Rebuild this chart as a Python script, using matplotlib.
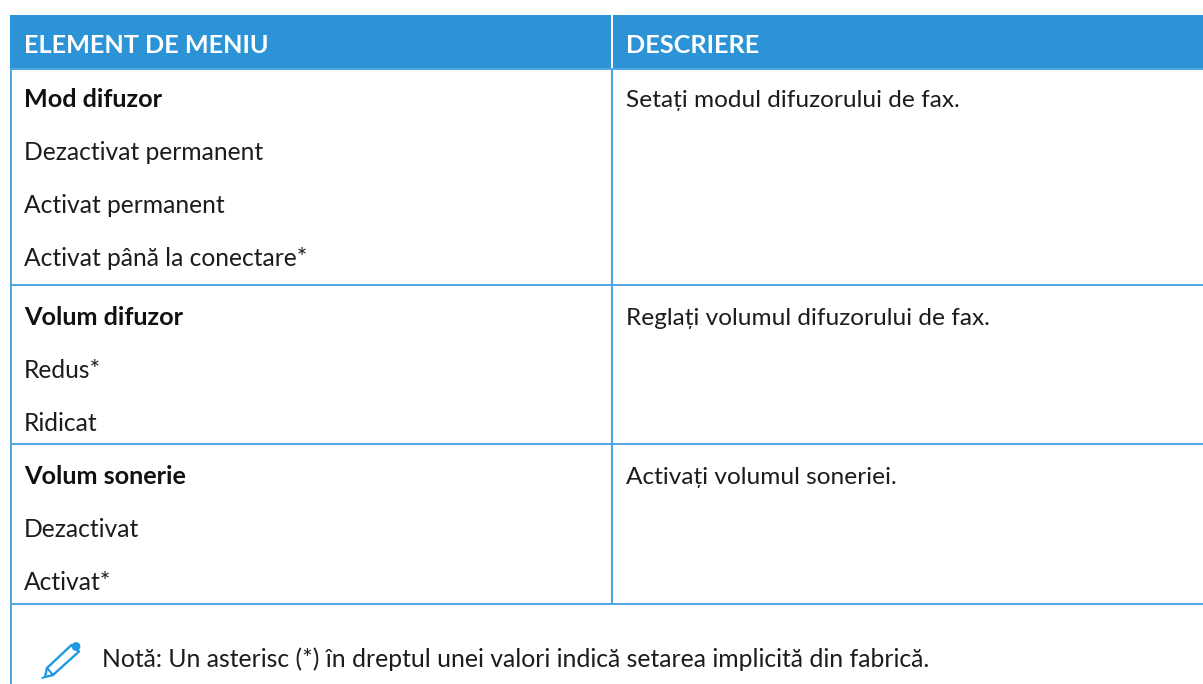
import matplotlib
matplotlib.use("Agg")
import matplotlib.pyplot as plt
from matplotlib.patches import Rectangle, Polygon, Circle

headers = ["ELEMENT DE MENIU", "DESCRIERE"]
row_titles = ["Mod difuzor", "Volum difuzor", "Volum sonerie"]
row_options = [
    ["Dezactivat permanent", "Activat permanent", "Activat până la conectare*"],
    ["Redus*", "Ridicat"],
    ["Dezactivat", "Activat*"],
]
row_desc = [
    "Setați modul difuzorului de fax.",
    "Reglați volumul difuzorului de fax.",
    "Activați volumul soneriei.",
]
note = "Notă: Un asterisc (*) în dreptul unei valori indică setarea implicită din fabrică."

BLUE = "#2b93d6"
LINE = "#4ea6e2"
ICON = "#1f9ae0"
TXT = "#1c1c1c"
FONT = "Lato"
FS = 17.6
FS_OPT = 17.75
FS_NOTE = 17.86
FS_B = 18.2

title_baselines = [107, 325, 484]
rule_positions = [285.3, 444.3, 603.5]
step = 53

fig = plt.figure(figsize=(12.03, 6.84), dpi=100)
ax = fig.add_axes([0, 0, 1, 1])
ax.set_xlim(0, 1203)
ax.set_ylim(684, 0)
ax.axis("off")

ax.add_patch(Rectangle((10, 15), 1193, 53, fc=BLUE, ec="none"))
ax.plot([611.5] * 2, [15, 68], color="white", lw=1.4, solid_capstyle="butt")
ax.plot([10, 1203], [68.5, 68.5], color=LINE, lw=1.4, solid_capstyle="butt")
ax.plot([10.5, 10.5], [68, 684], color=LINE, lw=1.4, solid_capstyle="butt")
ax.plot([611.7, 611.7], [68, 603.5], color=LINE, lw=1.5, solid_capstyle="butt")

ax.text(24, 53.3, headers[0], color="white", fontsize=FS_B, fontweight="bold", family=FONT, va="baseline")
ax.text(625.5, 53.3, headers[1], color="white", fontsize=FS_B, fontweight="bold", family=FONT, va="baseline")

for title, opts, desc, y, rule in zip(row_titles, row_options, row_desc, title_baselines, rule_positions):
    ax.text(24, y, title, color="#111111", fontsize=FS_B, fontweight="bold", family=FONT, va="baseline")
    ax.text(625.5, y, desc, color=TXT, fontsize=FS, family=FONT, va="baseline")
    for i, o in enumerate(opts, start=1):
        ax.text(24, y + i * step, o, color=TXT, fontsize=FS_OPT, family=FONT, va="baseline")
    ax.plot([10, 1203], [rule, rule], color=LINE, lw=1.4, solid_capstyle="butt")

ax.text(102, 666.7, note, color=TXT, fontsize=FS_NOTE, family=FONT, va="baseline")

# pencil icon
ax.add_patch(Polygon([[47, 668], [71.5, 645], [79, 651.5], [53, 675], [45, 677]], closed=True,
                     fc="none", ec=ICON, lw=1.7, joinstyle="round"))
ax.add_patch(Circle((76, 646.5), 3.8, fc=ICON, ec=ICON, lw=0.8))
ax.plot([47, 53], [668, 675], color=ICON, lw=1.5)
ax.plot([42.5, 43.5], [678, 677.5], color=ICON, lw=1.4)

fig.savefig("out.png", dpi=100)
